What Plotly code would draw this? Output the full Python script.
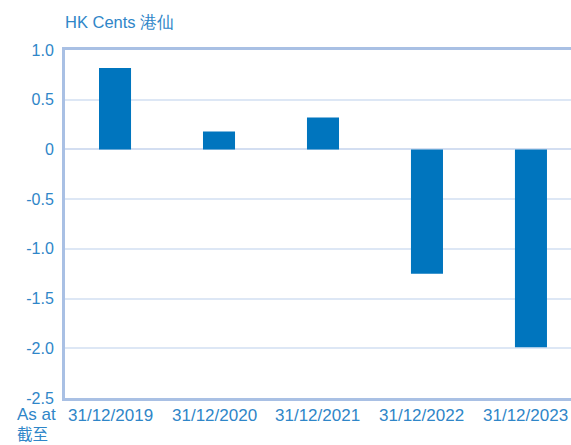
import plotly.graph_objects as go

categories = ["31/12/2019", "31/12/2020", "31/12/2021", "31/12/2022", "31/12/2023"]
values = [0.82, 0.18, 0.32, -1.25, -1.99]
y_tick_vals = [1.0, 0.5, 0, -0.5, -1.0, -1.5, -2.0, -2.5]
y_tick_text = ["1.0", "0.5", "0", "-0.5", "-1.0", "-1.5", "-2.0", "-2.5"]

text_color = "#2f86c8"
font_family = "Liberation Sans, Arial, sans-serif"

W, H = 571, 445
l, r, t, b = 65, 0, 50, 47
pw, ph = W - l - r, H - t - b
def px(xp):
    return (xp - l) / pw
def py(yp):
    return (H - b - yp) / ph

fig = go.Figure()
x_idx = list(range(len(categories)))
fig.add_trace(go.Bar(
    x=x_idx,
    y=values,
    width=0.308,
    marker=dict(color="#0075be", line=dict(width=0)),
    hoverinfo="skip",
))

annotations = [
    dict(text="HK Cents 港仙", x=px(63), y=py(22), xref="paper", yref="paper",
         xanchor="left", yanchor="middle", showarrow=False,
         font=dict(size=16.5, color=text_color, family=font_family)),
    dict(text="As at", x=px(16), y=py(425), xref="paper", yref="paper",
         xanchor="left", yanchor="bottom", showarrow=False, borderpad=0,
         font=dict(size=17, color=text_color, family=font_family)),
    dict(text="截至", x=px(16), y=py(445), xref="paper", yref="paper",
         xanchor="left", yanchor="bottom", showarrow=False, borderpad=0,
         font=dict(size=15.5, color=text_color, family="Noto Sans CJK TC, " + font_family)),
]
for i, c in zip(x_idx, categories):
    annotations.append(dict(
        text=c, x=i, xref="x", y=py(415), yref="paper",
        xanchor="center", yanchor="middle", xshift=-5, showarrow=False,
        font=dict(size=17, color=text_color, family=font_family)))

fig.update_layout(
    width=W, height=H,
    margin=dict(l=l, r=r, t=t, b=b, pad=0),
    paper_bgcolor="white", plot_bgcolor="white",
    showlegend=False,
    font=dict(family=font_family, color=text_color),
    xaxis=dict(
        range=[-0.481, 4.385],
        showticklabels=False,
        showgrid=False, zeroline=False,
        showline=True, mirror=True, linewidth=3, linecolor="#a9c0e4",
        ticks="",
    ),
    yaxis=dict(
        range=[-2.5, 1.0],
        tickmode="array",
        tickvals=y_tick_vals,
        ticktext=y_tick_text,
        tickfont=dict(size=16, color=text_color),
        showgrid=True, gridcolor="#dde7f5", gridwidth=2,
        zeroline=True, zerolinecolor="#d3def1", zerolinewidth=2,
        showline=True, linewidth=3, linecolor="#a9c0e4",
        ticks="outside", ticklen=5, tickcolor="rgba(0,0,0,0)",
    ),
    annotations=annotations,
)

fig.write_html("out.html", config={"displayModeBar": False},
               post_script="document.body.style.margin='0';document.body.style.overflow='hidden';")
